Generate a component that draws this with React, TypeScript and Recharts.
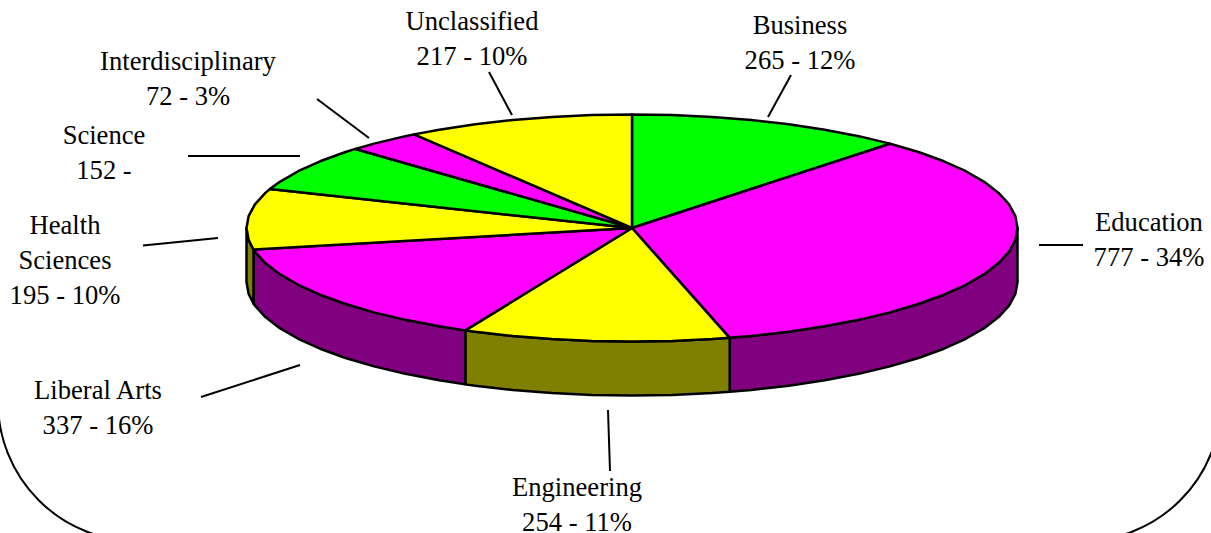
import { PieChart, Pie } from "recharts";

const categories = ["Business", "Education", "Engineering", "Liberal Arts", "Health Sciences", "Science", "Interdisciplinary", "Unclassified"];
const values = [265, 777, 254, 337, 195, 152, 72, 217];
const percents = ["12%", "34%", "11%", "16%", "10%", "", "3%", "10%"];
const topColors = ["#00ff00", "#ff00ff", "#ffff00", "#ff00ff", "#ffff00", "#00ff00", "#ff00ff", "#ffff00"];
const wallColors = ["#008000", "#800080", "#808000", "#800080", "#808000", "#008000", "#800080", "#808000"];

const chartData = categories.map((name, i) => ({ name, value: values[i], fill: topColors[i], wall: wallColors[i] }));

// label placement, same order as categories: text centre, first baseline, leader line
const labelLayout = [
  { x: 800, y: 34, line: [791, 75, 768, 117] },
  { x: 1149, y: 231, line: [1083, 245, 1039, 245] },
  { x: 577, y: 496, line: [610, 471, 608, 410] },
  { x: 98, y: 399, line: [201, 397, 300, 365] },
  { x: 65, y: 234, line: [143, 245.5, 218, 238] },
  { x: 104, y: 144, line: [188, 156, 300, 156] },
  { x: 188, y: 70, line: [317, 99, 369, 138] },
  { x: 472, y: 30, line: [489, 72, 512, 115] },
];

const SQUASH = 0.2945;
const DEPTH = 54;
const FACET = 6; // the rim is a polygon, not a true arc
const RAD = Math.PI / 180;

function rimAngles(from: number, to: number) {
  const out = [from];
  let a = Math.floor((from - 0.001) / FACET) * FACET;
  while (a > to) {
    out.push(a);
    a -= FACET;
  }
  out.push(to);
  return out;
}

function PieSlice(props: any) {
  const { cx, cy, outerRadius, startAngle, endAngle, fill, wall } = props;
  const rx = outerRadius;
  const ry = outerRadius * SQUASH;
  const pt = (a: number, dy = 0) => `${cx + rx * Math.cos(a * RAD)},${cy - ry * Math.sin(a * RAD) + dy}`;

  const top = `M${cx},${cy} L` + rimAngles(startAngle, endAngle).map((a) => pt(a)).join(" L") + " Z";

  // only the front half of the rim has a visible wall
  const wallFrom = Math.min(startAngle, 0);
  const wallTo = Math.max(endAngle, -180);
  let side = null;
  if (wallFrom > wallTo) {
    const angles = rimAngles(wallFrom, wallTo);
    const d =
      "M" + angles.map((a) => pt(a)).join(" L") + " L" + [...angles].reverse().map((a) => pt(a, DEPTH)).join(" L") + " Z";
    side = <path d={d} fill={wall} stroke="#000" strokeWidth={2.5} strokeLinejoin="round" />;
  }

  return (
    <g>
      {side}
      <path d={top} fill={fill} stroke="#000" strokeWidth={2.5} strokeLinejoin="round" />
    </g>
  );
}

function SliceLabel(props: any) {
  const i = props.index;
  const pos = labelLayout[i];
  const nameLines = categories[i] === "Health Sciences" ? ["Health", "Sciences"] : [categories[i]];
  const lines = [...nameLines, `${values[i]} - ${percents[i]}`.trim()];
  const [x1, y1, x2, y2] = pos.line;
  return (
    <g>
      <line x1={x1} y1={y1} x2={x2} y2={y2} stroke="#000" strokeWidth={2} />
      {lines.map((t, k) => (
        <text
          key={t}
          x={pos.x}
          y={pos.y + k * 35}
          textAnchor="middle"
          fontFamily="'Liberation Serif', serif"
          fontSize={26.6}
          fill="#000"
        >
          {t}
        </text>
      ))}
    </g>
  );
}

export default function App() {
  return (
    <div style={{ position: "absolute", left: 0, top: 0, width: 1211, height: 533, overflow: "hidden", background: "#fff" }}>
      {/* chart frame, only its lower corners fall inside the picture */}
      <div
        style={{
          position: "absolute",
          left: -3,
          top: -300,
          width: 1221,
          height: 838,
          border: "2px solid #000",
          borderRadius: 140,
        }}
      />
      <div style={{ position: "absolute", left: 0, top: 0 }}>
        <PieChart width={1211} height={533} margin={{ top: 0, right: 0, bottom: 0, left: 0 }}>
          <Pie
            data={chartData}
            dataKey="value"
            nameKey="name"
            cx={632}
            cy={228}
            innerRadius={0}
            outerRadius={385.5}
            startAngle={90}
            endAngle={-270}
            shape={PieSlice}
            label={SliceLabel}
            labelLine={false}
            isAnimationActive={false}
          />
        </PieChart>
      </div>
    </div>
  );
}
